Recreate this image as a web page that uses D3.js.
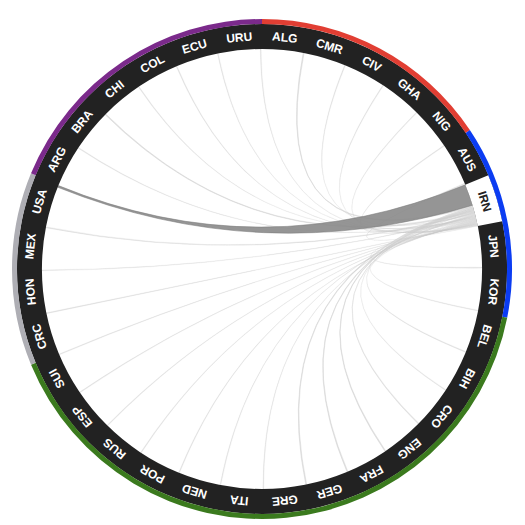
<!DOCTYPE html>
<html>
<head>
<meta charset="utf-8">
<script src="https://cdn.jsdelivr.net/npm/d3@7"></script>
<style>
  html, body { margin: 0; padding: 0; background: #fff; }
  svg { display: block; }
</style>
</head>
<body>
<svg id="chart" width="525" height="525"></svg>
<script>
// ---- data ----
const teams = ["ALG","CMR","CIV","GHA","NIG","AUS","IRN","JPN","KOR","BEL","BIH","CRO","ENG","FRA","GER","GRE","ITA","NED","POR","RUS","ESP","SUI","CRC","HON","MEX","USA","ARG","BRA","CHI","COL","ECU","URU"];
const teamConfed = ["CAF","CAF","CAF","CAF","CAF","AFC","AFC","AFC","AFC","UEFA","UEFA","UEFA","UEFA","UEFA","UEFA","UEFA","UEFA","UEFA","UEFA","UEFA","UEFA","UEFA","CONCACAF","CONCACAF","CONCACAF","CONCACAF","CONMEBOL","CONMEBOL","CONMEBOL","CONMEBOL","CONMEBOL","CONMEBOL"];
const confeds = ["CAF","AFC","UEFA","CONCACAF","CONMEBOL"];
const focusTeam = "IRN";
// link strength between the focus team and every team
const linkValues = [1.6,0.7,0.6,0.6,0.6,0.5,0,0.6,0.6,0.6,0.7,1.0,1.4,1.4,1.6,0.7,0.7,0.6,0.6,0.6,0.6,0.6,0.6,0.7,1.0,24,0.7,1.4,0.7,0.6,0.6,0.6];

// ---- layout ----
const cx = 262, cy = 269;
const rInner = 220, rLabelOuter = 245, rConfOuter = 250, rText = 232.5;
const confColor = d3.scaleOrdinal().domain(confeds)
  .range(["#e13e33","#0b3cf2","#3b7a1e","#aeaeb4","#7b2a8b"]);

const angle = d3.scaleBand().domain(teams).range([0, 2 * Math.PI]).paddingInner(0).paddingOuter(0);
const bw = angle.bandwidth();

const svg = d3.select("#chart");
const g = svg.append("g").attr("transform", `translate(${cx},${cy})`);

// ---- ribbons ----
const fStart = angle(focusTeam);
const links = teams.map((t, i) => ({team: t, i, v: linkValues[i]}))
  .filter(d => d.team !== focusTeam && d.v > 0)
  .sort((a, b) => d3.descending(a.v, b.v) || d3.ascending(a.i, b.i));
const total = d3.sum(links, d => d.v);
const srcScale = d3.scaleLinear().domain([0, total]).range([fStart, fStart + bw]);
let acc = 0;
links.forEach(d => {
  d.s0 = srcScale(acc); acc += d.v; d.s1 = srcScale(acc);
  const end = angle(d.team) + bw;
  const tw = d.v > 5 ? 0.008 : 0.004;
  d.t1 = end - 0.004; d.t0 = d.t1 - tw;
});
const ribbon = d3.ribbon().radius(rInner);
const maxV = d3.max(links, d => d.v);

g.append("g").selectAll("path")
  .data(links.slice().reverse())
  .join("path")
  .attr("d", d => ribbon({
    source: {startAngle: d.s0, endAngle: d.s1},
    target: {startAngle: d.t0, endAngle: d.t1}
  }))
  .attr("fill", d => d.v === maxV ? "#8a8a8a" : "#c4c4c4")
  .attr("fill-opacity", d => d.v === maxV ? 0.9 : 0.45)
  .attr("stroke", d => d.v === maxV ? "#7a7a7a" : "#d0d0d0")
  .attr("stroke-opacity", d => d.v === maxV ? 0.9 : (d.v >= 1.3 ? 0.75 : d.v >= 0.9 ? 0.5 : 0.28))
  .attr("stroke-width", 0.6);

// ---- team ring ----
g.append("path")
  .attr("d", d3.arc().innerRadius(rInner).outerRadius(rLabelOuter).startAngle(0).endAngle(2 * Math.PI)())
  .attr("fill", "#222222");
const teamArc = d3.arc().innerRadius(rInner).outerRadius(rLabelOuter)
  .startAngle(d => angle(d)).endAngle(d => angle(d) + bw);
g.append("g").selectAll("path")
  .data(teams.filter(t => t === focusTeam))
  .join("path")
  .attr("d", teamArc)
  .attr("fill", "#ffffff");

// ---- confederation ring ----
const confData = confeds.map(c => {
  const idx = teams.map((t, i) => i).filter(i => teamConfed[i] === c);
  return {c, start: angle(teams[d3.min(idx)]), end: angle(teams[d3.max(idx)]) + bw};
});
const confArc = d3.arc().innerRadius(rLabelOuter).outerRadius(rConfOuter)
  .startAngle(d => d.start).endAngle(d => d.end);
g.append("g").selectAll("path")
  .data(confData)
  .join("path")
  .attr("d", confArc)
  .attr("fill", d => confColor(d.c));

// ---- labels ----
g.append("g").selectAll("text")
  .data(teams)
  .join("text")
  .attr("transform", d => {
    const a = (angle(d) + bw / 2) * 180 / Math.PI;
    return `rotate(${a}) translate(0,${-rText})`;
  })
  .attr("text-anchor", "middle")
  .attr("dominant-baseline", "central")
  .attr("font-family", "'Liberation Sans', Arial, Helvetica, sans-serif")
  .attr("font-weight", "bold")
  .attr("font-size", 12)
  .attr("fill", d => d === focusTeam ? "#222222" : "#ffffff")
  .text(d => d);
</script>
</body>
</html>
